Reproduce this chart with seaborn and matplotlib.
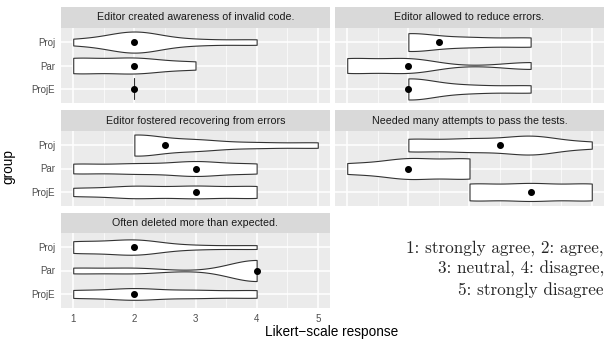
import numpy as np
import pandas as pd
import matplotlib
matplotlib.use("Agg")
import matplotlib.pyplot as plt
import seaborn as sns

# Likert answers (1..5) per question and group
groups = ["Proj", "Par", "ProjE"]

questions = [
    "Editor created awareness of invalid code.",
    "Editor allowed to reduce errors.",
    "Editor fostered recovering from errors",
    "Needed many attempts to pass the tests.",
    "Often deleted more than expected.",
]

aware_proj = [1, 2, 2, 2, 2, 3, 4]
aware_par = [1, 1, 2, 2, 3]
aware_proje = [2, 2, 2]

reduce_proj = [2, 2, 2, 2, 3, 3, 4, 4]
reduce_par = [1, 1, 2, 2, 4]
reduce_proje = [2, 2, 2, 3, 4]

recover_proj = [2, 2, 2, 2, 3, 3, 4, 5]
recover_par = [1, 1, 2, 2, 3, 3, 3, 4, 4]
recover_proje = [1, 1, 2, 2, 2, 3, 3, 3, 4, 4, 4]

attempts_proj = [2, 2, 3, 3, 4, 4, 4, 5]
attempts_par = [1, 2, 2, 3, 3]
attempts_proje = [3, 4, 5]

deleted_proj = [1, 1, 1, 2, 2, 2, 2, 3, 4]
deleted_par = [1, 2, 4, 4, 4, 4]
deleted_proje = [1, 1, 2, 2, 2, 3, 3, 4, 4]

answers = [
    [aware_proj, aware_par, aware_proje],
    [reduce_proj, reduce_par, reduce_proje],
    [recover_proj, recover_par, recover_proje],
    [attempts_proj, attempts_par, attempts_proje],
    [deleted_proj, deleted_par, deleted_proje],
]

note = "1: strongly agree, 2: agree,\n3: neutral, 4: disagree,\n5: strongly disagree"

rows = []
for q, per_group in zip(questions, answers):
    for g, vals in zip(groups, per_group):
        for v in vals:
            rows.append({"question": q, "group": g, "response": v})
df = pd.DataFrame(rows)

BW = 0.45  # kernel bandwidth in response units


def fixed_bw(kde):
    # gaussian_kde wants a factor on the sample sd
    sd = np.asarray(kde.dataset).ravel().std(ddof=1)
    return BW / sd if sd > 0 else 1.0


sns.set_theme(style="darkgrid")
plt.rcParams["font.family"] = ["Liberation Sans", "DejaVu Sans"]

W, H = 616, 339
fig = plt.figure(figsize=(W / 100, H / 100), dpi=100)

cols = [(61, 330), (335, 604)]
rowpos = [(7, 28, 103), (110, 131, 206), (213, 233, 308)]


def rect(x0, x1, y0, y1):
    return [x0 / W, 1 - y1 / H, (x1 - x0) / W, (y1 - y0) / H]


for i, q in enumerate(questions):
    r, c = divmod(i, 2)
    x0, x1 = cols[c]
    s0, s1, p1 = rowpos[r]

    sax = fig.add_axes(rect(x0, x1, s0, s1))
    sax.set_facecolor("#D9D9D9")
    sax.grid(False)
    sax.set_xticks([])
    sax.set_yticks([])
    for sp in sax.spines.values():
        sp.set_visible(False)
    sax.text(0.5, 0.5, q, ha="center", va="center", fontsize=7.7,
             color="#1A1A1A", transform=sax.transAxes)

    ax = fig.add_axes(rect(x0, x1, s1, p1))
    ax.set_facecolor("#EBEBEB")
    sub = df[df["question"] == q]
    sns.violinplot(data=sub, x="response", y="group", order=groups,
                   orient="h", cut=0, density_norm="area", width=0.9,
                   inner=None, color="white", saturation=1,
                   linecolor="#333333", linewidth=0.8, bw_method=fixed_bw,
                   ax=ax)
    sns.pointplot(data=sub, x="response", y="group", order=groups,
                  orient="h", estimator="median", errorbar=None,
                  color="black", linestyle="none", markers="o",
                  markersize=3, ax=ax)

    ax.set_xlim(0.8, 5.2)
    ax.set_ylim(2.6, -0.6)
    ax.set_xticks([1, 2, 3, 4, 5])
    ax.set_xticks([1.5, 2.5, 3.5, 4.5], minor=True)
    ax.grid(which="major", color="white", linewidth=1.1)
    ax.grid(which="minor", axis="x", color="white", linewidth=0.5)
    ax.set_axisbelow(True)
    for sp in ax.spines.values():
        sp.set_visible(False)
    ax.set_xlabel("")
    ax.set_ylabel("")
    ax.tick_params(axis="both", which="minor", length=0)
    ax.tick_params(axis="both", which="major", color="#333333", length=2.8,
                   width=0.8, labelsize=7, labelcolor="#4D4D4D", pad=1.5)
    if c == 1:
        ax.tick_params(axis="y", length=0, labelleft=False)
    if i != 4:
        ax.tick_params(axis="x", length=0, labelbottom=False)

fig.text(332 / W, 1 - 332 / H, "Likert\u2212scale response", ha="center",
         va="center", fontsize=9.8, color="black")
fig.text(8 / W, 1 - 166 / H, "group", ha="center", va="center",
         rotation=90, fontsize=9.8, color="black")
fig.text(604 / W, 1 - 269 / H, note, ha="right", va="center", fontsize=12.3,
         family="cmr10", linespacing=1.38, multialignment="right")

fig.savefig("out.png", dpi=100)
